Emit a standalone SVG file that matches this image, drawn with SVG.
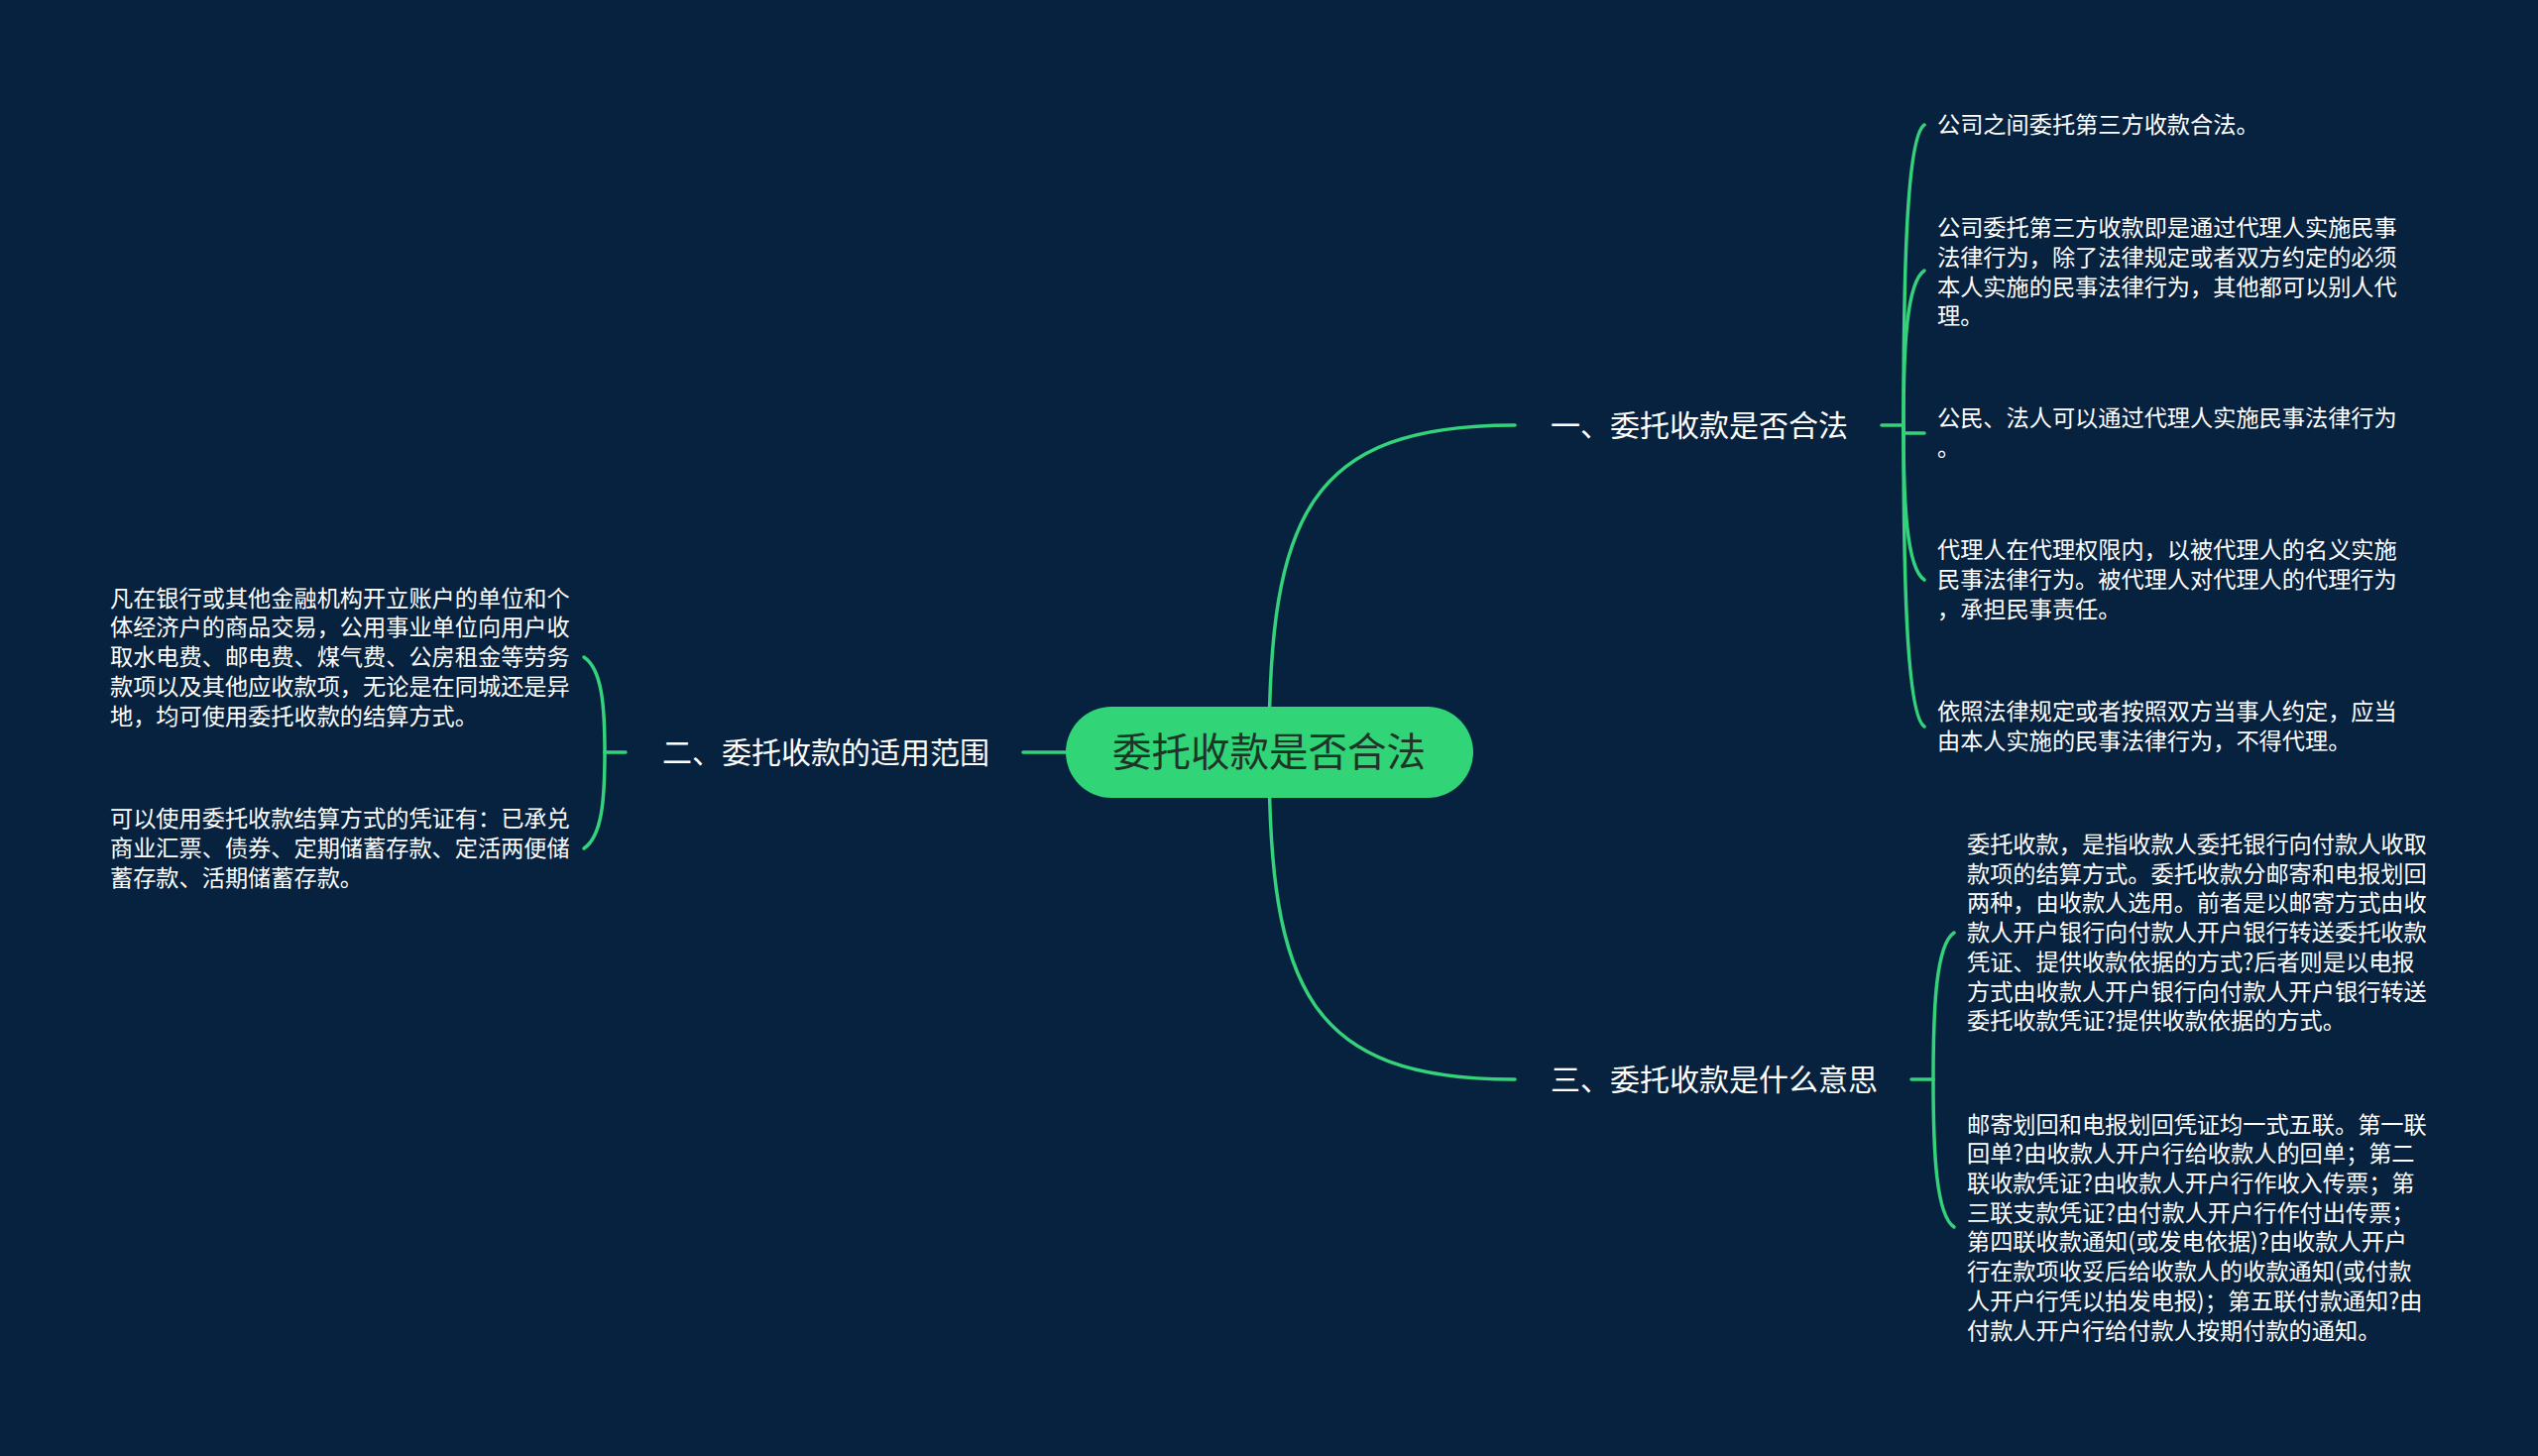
<svg xmlns="http://www.w3.org/2000/svg" width="2560" height="1469" viewBox="0 0 2560 1469">
<style>
.bg{fill:#06223f}
.ln{fill:none;stroke:#34d27a;stroke-width:3.5;stroke-linecap:round}
.t{font-family:"Noto Sans CJK SC","Noto Sans",sans-serif;fill:#ffffff}
.c{font-size:23.2px}
.b{font-size:30px}
.root{fill:#31d476}
.rt{font-family:"Noto Sans CJK SC","Noto Sans",sans-serif;font-size:39.5px;fill:#1c3527}
</style>
<rect class="bg" x="0" y="0" width="2560" height="1469"/>
<g id="connectors">
<path class="ln" d="M1280,759 C1280,520 1320,429 1528,429"/>
<path class="ln" d="M1280,759 C1280,998 1320,1089 1528,1089"/>
<path class="ln" d="M1075,759 L1032,759"/>
<path class="ln" d="M1898,429 L1920,429"/>
<path class="ln" d="M1920,429 C1920,277 1923,138 1941,126"/>
<path class="ln" d="M1920,429 C1920,351 1923,285 1941,273"/>
<path class="ln" d="M1920,429 L1920,437 L1941,437"/>
<path class="ln" d="M1920,429 C1920,507 1923,573 1941,585"/>
<path class="ln" d="M1920,429 C1920,581 1923,721 1941,733"/>
<path class="ln" d="M1928,1089 L1950,1089"/>
<path class="ln" d="M1950,1089 C1950,1015 1953,953 1971,941"/>
<path class="ln" d="M1950,1089 C1950,1164 1953,1226 1971,1238"/>
<path class="ln" d="M631,759 L610,759"/>
<path class="ln" d="M610,759 C610,711 607,675 589,663"/>
<path class="ln" d="M610,759 C610,808 607,844 589,856"/>
</g>
<g id="root">
<rect class="root" x="1075" y="713" width="411" height="92" rx="46"/>
<text class="rt" x="1280" y="773" text-anchor="middle">委托收款是否合法</text>
</g>
<g id="branch1">
<text class="t b" x="1564" y="439.5">一、委托收款是否合法</text>
</g>
<g id="branch2">
<text class="t b" x="668" y="769.5">二、委托收款的适用范围</text>
</g>
<g id="branch3">
<text class="t b" x="1564" y="1099.5">三、委托收款是什么意思</text>
</g>
<g id="b1c1">
<text class="t c" x="1954" y="134.1">公司之间委托第三方收款合法。</text>
</g>
<g id="b1c2">
<text class="t c" x="1954" y="238.1">公司委托第三方收款即是通过代理人实施民事</text>
<text class="t c" x="1954" y="267.8">法律行为，除了法律规定或者双方约定的必须</text>
<text class="t c" x="1954" y="297.5">本人实施的民事法律行为，其他都可以别人代</text>
<text class="t c" x="1954" y="327.2">理。</text>
</g>
<g id="b1c3">
<text class="t c" x="1954" y="430">公民、法人可以通过代理人实施民事法律行为</text>
<text class="t c" x="1954" y="459.7">。</text>
</g>
<g id="b1c4">
<text class="t c" x="1954" y="563.4">代理人在代理权限内，以被代理人的名义实施</text>
<text class="t c" x="1954" y="593.1">民事法律行为。被代理人对代理人的代理行为</text>
<text class="t c" x="1954" y="622.8">，承担民事责任。</text>
</g>
<g id="b1c5">
<text class="t c" x="1954" y="726.3">依照法律规定或者按照双方当事人约定，应当</text>
<text class="t c" x="1954" y="756">由本人实施的民事法律行为，不得代理。</text>
</g>
<g id="b3c1">
<text class="t c" x="1984" y="860">委托收款，是指收款人委托银行向付款人收取</text>
<text class="t c" x="1984" y="889.7">款项的结算方式。委托收款分邮寄和电报划回</text>
<text class="t c" x="1984" y="919.4">两种，由收款人选用。前者是以邮寄方式由收</text>
<text class="t c" x="1984" y="949.1">款人开户银行向付款人开户银行转送委托收款</text>
<text class="t c" x="1984" y="978.8">凭证、提供收款依据的方式?后者则是以电报</text>
<text class="t c" x="1984" y="1008.5">方式由收款人开户银行向付款人开户银行转送</text>
<text class="t c" x="1984" y="1038.2">委托收款凭证?提供收款依据的方式。</text>
</g>
<g id="b3c2">
<text class="t c" x="1984" y="1142.6">邮寄划回和电报划回凭证均一式五联。第一联</text>
<text class="t c" x="1984" y="1172.3">回单?由收款人开户行给收款人的回单；第二</text>
<text class="t c" x="1984" y="1202">联收款凭证?由收款人开户行作收入传票；第</text>
<text class="t c" x="1984" y="1231.7">三联支款凭证?由付款人开户行作付出传票；</text>
<text class="t c" x="1984" y="1261.4">第四联收款通知(或发电依据)?由收款人开户</text>
<text class="t c" x="1984" y="1291.1">行在款项收妥后给收款人的收款通知(或付款</text>
<text class="t c" x="1984" y="1320.8">人开户行凭以拍发电报)；第五联付款通知?由</text>
<text class="t c" x="1984" y="1350.5">付款人开户行给付款人按期付款的通知。</text>
</g>
<g id="b2c1">
<text class="t c" x="111" y="611.7">凡在银行或其他金融机构开立账户的单位和个</text>
<text class="t c" x="111" y="641.4">体经济户的商品交易，公用事业单位向用户收</text>
<text class="t c" x="111" y="671.1">取水电费、邮电费、煤气费、公房租金等劳务</text>
<text class="t c" x="111" y="700.8">款项以及其他应收款项，无论是在同城还是异</text>
<text class="t c" x="111" y="730.5">地，均可使用委托收款的结算方式。</text>
</g>
<g id="b2c2">
<text class="t c" x="111" y="834.4">可以使用委托收款结算方式的凭证有：已承兑</text>
<text class="t c" x="111" y="864.1">商业汇票、债券、定期储蓄存款、定活两便储</text>
<text class="t c" x="111" y="893.8">蓄存款、活期储蓄存款。</text>
</g>
</svg>
